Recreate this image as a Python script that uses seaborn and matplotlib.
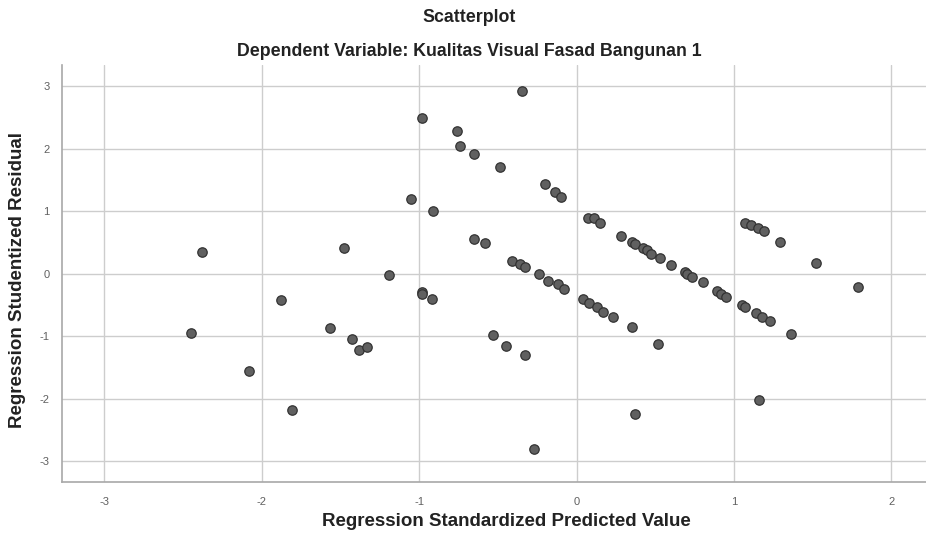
import matplotlib
matplotlib.use("Agg")
import matplotlib.pyplot as plt
import seaborn as sns
import pandas as pd

# Regression standardized predicted value (x) and studentized residual (y)
pred_x = [
    -2.45, -2.38, -2.08, -1.88, -1.81, -1.57, -1.48, -1.43, -1.38, -1.33,
    -1.19, -1.05, -0.98, -0.985, -0.98, -0.92, -0.91, -0.76, -0.74, -0.65,
    -0.65, -0.58, -0.49, -0.35, -0.20, -0.14, -0.10,
    -0.41, -0.36, -0.33, -0.24, -0.18, -0.12, -0.08, 0.04, 0.08, 0.13,
    0.17, 0.23, 0.35, 0.52,
    -0.53, -0.45, -0.33, -0.27, 0.37,
    0.07, 0.11, 0.15, 0.28, 0.35, 0.37, 0.42, 0.445, 0.47, 0.53,
    0.60, 0.69, 0.70, 0.73, 0.80, 0.89, 0.92, 0.95, 1.05, 1.07,
    1.14, 1.18, 1.23, 1.36,
    1.07, 1.11, 1.15, 1.19, 1.29, 1.52, 1.79,
    1.16,
]
resid_y = [
    -0.95, 0.35, -1.55, -0.42, -2.18, -0.87, 0.42, -1.04, -1.22, -1.17,
    -0.02, 1.20, 2.50, -0.29, -0.33, -0.40, 1.01, 2.28, 2.05, 1.92,
    0.56, 0.50, 1.71, 2.92, 1.44, 1.31, 1.23,
    0.21, 0.16, 0.11, 0.00, -0.11, -0.16, -0.24, -0.40, -0.46, -0.53,
    -0.61, -0.69, -0.85, -1.12,
    -0.98, -1.15, -1.30, -2.80, -2.24,
    0.90, 0.90, 0.81, 0.61, 0.51, 0.48, 0.42, 0.38, 0.32, 0.26,
    0.14, 0.03, 0.00, -0.05, -0.13, -0.27, -0.33, -0.37, -0.50, -0.53,
    -0.62, -0.69, -0.75, -0.96,
    0.82, 0.78, 0.74, 0.69, 0.51, 0.17, -0.21,
    -2.02,
]
x_ticks = [-3, -2, -1, 0, 1, 2]
y_ticks = [-3, -2, -1, 0, 1, 2, 3]

title = "Scatterplot"
subtitle = "Dependent Variable: Kualitas Visual Fasad Bangunan 1"
x_label = "Regression Standardized Predicted Value"
y_label = "Regression Studentized Residual"

df = pd.DataFrame({"x": pred_x, "y": resid_y})

sns.set_theme(style="white")
plt.rcParams["font.family"] = ["Liberation Sans", "DejaVu Sans"]

fig = plt.figure(figsize=(9.26, 5.39), dpi=100)
ax = fig.add_axes([62 / 926, 1 - 482 / 539, 1 - 62 / 926, (482 - 65) / 539])

sns.scatterplot(data=df, x="x", y="y", ax=ax, s=46, color="#606060",
                edgecolor="#333333", linewidth=0.9, zorder=3)

ax.set_xlim(-3.27, 2.22)
ax.set_ylim(-3.33, 3.34)
ax.set_xticks(x_ticks)
ax.set_yticks(y_ticks)
ax.set_xticklabels([str(t) for t in x_ticks])
ax.set_yticklabels([str(t) for t in y_ticks])
ax.grid(True, color="#cdcdcd", linewidth=1.0, zorder=0)
ax.set_axisbelow(True)
for side in ["top", "right"]:
    ax.spines[side].set_visible(False)
for side in ["left", "bottom"]:
    ax.spines[side].set_color("#a8a8a8")
    ax.spines[side].set_linewidth(1.2)
ax.tick_params(axis="both", length=0, labelsize=8, labelcolor="#606060")
ax.tick_params(axis="x", pad=11)
ax.tick_params(axis="y", pad=9)
ax.set_xlabel("")
ax.set_ylabel("")

fig.text(469 / 926, 1 - 18 / 539, title, ha="center", va="center",
         fontsize=12.8, fontweight="bold", color="#222222")
fig.text(469 / 926, 1 - 52 / 539, subtitle, ha="center", va="center",
         fontsize=12.8, fontweight="bold", color="#222222")
fig.text(506 / 926, 1 - 522 / 539, x_label, ha="center", va="center",
         fontsize=13.5, fontweight="bold", color="#222222")
fig.text(18 / 926, 1 - 280 / 539, y_label, ha="center", va="center",
         rotation=90, fontsize=13.5, fontweight="bold", color="#222222")

fig.savefig("out.png", dpi=100)
